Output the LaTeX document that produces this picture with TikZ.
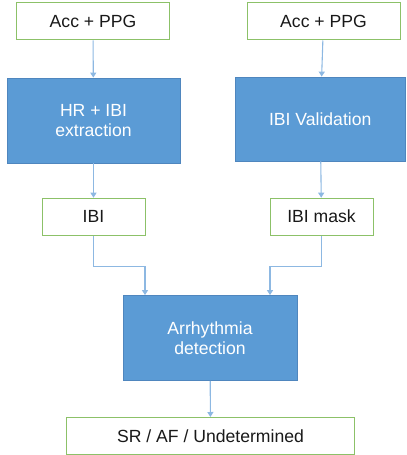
\documentclass[tikz,border=0pt]{standalone}
\usepackage{fontspec}
\setmainfont{Liberation Sans}
\usetikzlibrary{arrows.meta}

\definecolor{boxblue}{HTML}{5B9BD5}
\definecolor{boxedge}{HTML}{4F86BE}
\definecolor{boxgreen}{HTML}{8CC168}
\definecolor{linkblue}{HTML}{8DB8E2}

\begin{document}
\begin{tikzpicture}[x=1bp, y=-1bp,
    every node/.style={font=\fontsize{17.6bp}{20bp}\selectfont, align=center, inner sep=0pt},
    data/.style={rectangle, draw=boxgreen, line width=1bp, fill=white, text=black!90, minimum height=37bp},
    proc/.style={rectangle, draw=boxedge, line width=0.8bp, fill=boxblue, text=white, minimum height=85bp},
    link/.style={draw=linkblue, line width=1.1bp, -{Triangle[length=5bp, width=6bp]}}]
    \useasboundingbox (0,0) rectangle (406,455);

    \node (IN1) at ( 93  , 21.5) [data, minimum width=152bp] {Acc + PPG};
    \node (IN2) at (323.5, 21.5) [data, minimum width=153bp] {Acc + PPG};

    \node (HR)  at ( 93.5, 120.5) [proc, minimum width=173bp] {HR + IBI\\extraction};
    \node (VAL) at (320.2, 119  ) [proc, minimum width=170bp, minimum height=84bp] {IBI Validation};

    \draw (IN1) edge[link] (HR);
    \draw (IN2) edge[link] (VAL);

    %-----

    \node (IBI)  at ( 93.5, 216.7) [data, minimum width=103bp] {IBI};
    \node (MASK) at (321.5, 216.7) [data, minimum width=103bp] {IBI mask};

    \draw (HR)  edge[link] (IBI);
    \draw (VAL) edge[link] (MASK);

    %-----

    \node (ARR) at (210, 338) [proc, minimum width=174bp] {Arrhythmia\\detection};
    \node (OUT) at (210.5, 436) [data, minimum width=288bp] {SR / AF / Undetermined};

    \draw[link] (IBI.south)  -- ++(0,31) -| ([xshift=-65bp]ARR.north);
    \draw[link] (MASK.south) -- ++(0,31) -| ([xshift=60bp]ARR.north);
    \draw (ARR) edge[link] (OUT);
\end{tikzpicture}
\end{document}
